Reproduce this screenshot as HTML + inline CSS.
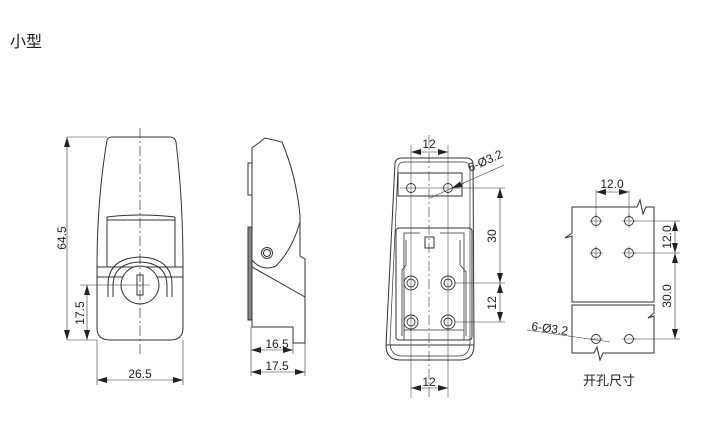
<!DOCTYPE html>
<html><head><meta charset="utf-8"><style>
html,body{margin:0;padding:0;background:#fff}
svg{display:block}
text{font-family:"Liberation Sans","Noto Sans CJK SC",sans-serif;fill:#222}
</style></head><body>
<svg width="728" height="424" viewBox="0 0 728 424" xmlns="http://www.w3.org/2000/svg">
<defs>
<marker id="a" viewBox="0 0 10 6" refX="10" refY="3" markerWidth="10" markerHeight="6" orient="auto-start-reverse" markerUnits="userSpaceOnUse"><path d="M0,0 L10,3 L0,6z" fill="#222"/></marker>
</defs>
<text x="10" y="47" font-size="16">小型</text>

<g fill="none" stroke="#333" stroke-width="1">
<!-- FRONT VIEW -->
<path d="M107,140 Q108,137 112,137 L170,137 Q175,137 176,142 Q183,200 183,267 L183,328 Q183,340 170,340 L110,340 Q97,340 97,328 L97,267 Q97,200 107,140Z"/>
<line x1="107" y1="217" x2="107" y2="267"/><line x1="175" y1="217" x2="175" y2="267"/>
<path d="M107,217 Q140,213 175,217"/><line x1="107" y1="220" x2="175" y2="220"/>
<line x1="97" y1="267" x2="183" y2="267"/><line x1="97" y1="277" x2="183" y2="277"/>
<path d="M108,297 L108,285 Q108,258 140,257 Q172,258 172,285 L172,297"/>
<path d="M113,297 L113,286 Q113,263 140,262 Q167,263 167,286 L167,297"/>
<circle cx="140" cy="285" r="19" fill="#fff"/>
<rect x="137" y="275" width="6" height="20"/>
<line x1="140" y1="128" x2="140" y2="355" stroke-dasharray="10,3,2,3" stroke-width="0.7"/>
<!-- dims -->
<line x1="67" y1="137" x2="107" y2="137" stroke-width="0.6"/><line x1="67" y1="340" x2="97" y2="340" stroke-width="0.6"/>
<line x1="67" y1="137" x2="67" y2="340" stroke-width="0.6" marker-start="url(#a)" marker-end="url(#a)"/>
<line x1="80" y1="285" x2="150" y2="285" stroke-width="0.6"/>
<line x1="87" y1="285" x2="87" y2="340" stroke-width="0.6" marker-start="url(#a)" marker-end="url(#a)"/>
<line x1="97" y1="340" x2="97" y2="385" stroke-width="0.6"/><line x1="183" y1="340" x2="183" y2="385" stroke-width="0.6"/>
<line x1="97" y1="380" x2="183" y2="380" stroke-width="0.6" marker-start="url(#a)" marker-end="url(#a)"/>

<!-- SIDE VIEW -->
<path d="M252,148 L265,138 L282,142 Q296,175 300,215 L300,256 L305,259 L305,343 L293,343 L293,327 L252,327 Z"/>
<rect x="248" y="163" width="4" height="32"/>
<rect x="248" y="227" width="4" height="93" fill="#888"/>
<circle cx="267" cy="253" r="5.5"/><circle cx="267" cy="253" r="3.5"/>
<path d="M252,260 Q262,272 276,266 Q292,250 300,222"/>
<line x1="252" y1="267" x2="305" y2="297"/>
<line x1="251" y1="327" x2="251" y2="376" stroke-width="0.6"/><line x1="305" y1="343" x2="305" y2="376" stroke-width="0.6"/>
<line x1="293" y1="343" x2="293" y2="354" stroke-width="0.6"/>
<line x1="251" y1="350" x2="293" y2="350" stroke-width="0.6" marker-start="url(#a)" marker-end="url(#a)"/>
<line x1="251" y1="372" x2="305" y2="372" stroke-width="0.6" marker-start="url(#a)" marker-end="url(#a)"/>

<!-- BACK VIEW -->
<path d="M395,163 Q396,158 402,158 L466,158 Q472,158 473,163 L474,345 Q474,360 460,360 L400,360 Q386,360 386,345 Z"/>
<path d="M398,167 Q399,162 404,162 L464,162 Q469,162 470,167 L470,342 Q470,356 458,356 L402,356 Q390,356 390,342 Z" stroke-width="0.7"/>
<rect x="398" y="173" width="64" height="23"/>
<rect x="396" y="228" width="76" height="112" rx="3"/>
<path d="M404,340 L404,233 L420,233 M440,233 L464,233 L464,340" stroke-width="0.8"/>
<rect x="425" y="237" width="9" height="11"/>
<path d="M402,336 L402,270 L406,265 L406,240 M460,240 L460,265 L466,272 L466,336" stroke-width="0.8"/>
<line x1="404" y1="330" x2="464" y2="330" stroke-width="0.8"/>
<line x1="386" y1="345" x2="474" y2="345"/>
<g stroke-width="0.9">
<circle cx="411" cy="188" r="4.5"/><circle cx="448" cy="188" r="4.5"/>
<circle cx="411" cy="283" r="7"/><circle cx="411" cy="283" r="4"/>
<circle cx="448" cy="283" r="7"/><circle cx="448" cy="283" r="4"/>
<circle cx="411" cy="322" r="7"/><circle cx="411" cy="322" r="4"/>
<circle cx="448" cy="322" r="7"/><circle cx="448" cy="322" r="4"/>
</g>
<line x1="429" y1="135" x2="429" y2="398" stroke-dasharray="10,3,2,3" stroke-width="0.6"/>
<line x1="411" y1="145" x2="411" y2="398" stroke-width="0.5"/><line x1="448" y1="145" x2="448" y2="398" stroke-width="0.5"/>
<line x1="400" y1="188" x2="460" y2="188" stroke-width="0.5"/>
<line x1="411" y1="152" x2="448" y2="152" stroke-width="0.6" marker-start="url(#a)" marker-end="url(#a)"/>
<line x1="411" y1="388" x2="448" y2="388" stroke-width="0.6" marker-start="url(#a)" marker-end="url(#a)"/>
<line x1="452" y1="188" x2="505" y2="188" stroke-width="0.5"/>
<line x1="455" y1="283" x2="505" y2="283" stroke-width="0.5"/>
<line x1="455" y1="322" x2="505" y2="322" stroke-width="0.5"/>
<line x1="500" y1="188" x2="500" y2="283" stroke-width="0.6" marker-start="url(#a)" marker-end="url(#a)"/>
<line x1="500" y1="283" x2="500" y2="322" stroke-width="0.6" marker-start="url(#a)" marker-end="url(#a)"/>
<line x1="430" y1="198" x2="504" y2="165" stroke-width="0.6"/>
<line x1="452" y1="188" x2="464" y2="183" stroke-width="0.6" marker-start="url(#a)"/>

<!-- HOLE PATTERN -->
<path d="M572,207 L637,207 L640,200 L643,214 L646,207 L654,207 L654,302 L572,302 L572,236 L565,238 L572,233 Z"/>
<path d="M572,305 L654,305 L654,313 L648,318 L654,316 L654,353 L603,353 L600,360 L597,347 L594,353 L572,353 Z"/>
<g stroke-width="0.9">
<circle cx="596" cy="221" r="4.5"/><circle cx="629" cy="221" r="4.5"/>
<circle cx="596" cy="253" r="4.5"/><circle cx="629" cy="253" r="4.5"/>
<circle cx="596" cy="339" r="4.5"/><circle cx="629" cy="339" r="4.5"/>
</g>
<g stroke-width="0.5">
<line x1="589" y1="221" x2="603" y2="221"/><line x1="596" y1="214" x2="596" y2="228"/>
<line x1="622" y1="221" x2="636" y2="221"/><line x1="629" y1="214" x2="629" y2="228"/>
<line x1="589" y1="253" x2="603" y2="253"/><line x1="596" y1="246" x2="596" y2="260"/>
<line x1="622" y1="253" x2="636" y2="253"/><line x1="629" y1="246" x2="629" y2="260"/>
<line x1="589" y1="339" x2="603" y2="339"/>
<line x1="622" y1="339" x2="636" y2="339"/>
<line x1="596" y1="190" x2="596" y2="217"/><line x1="629" y1="190" x2="629" y2="217"/>
<line x1="633" y1="221" x2="680" y2="221"/><line x1="633" y1="253" x2="680" y2="253"/><line x1="633" y1="339" x2="680" y2="339"/>
<line x1="527" y1="330" x2="610" y2="342"/>
</g>
<line x1="596" y1="192" x2="629" y2="192" stroke-width="0.6" marker-start="url(#a)" marker-end="url(#a)"/>
<line x1="675" y1="221" x2="675" y2="253" stroke-width="0.6" marker-start="url(#a)" marker-end="url(#a)"/>
<line x1="675" y1="253" x2="675" y2="339" stroke-width="0.6" marker-start="url(#a)" marker-end="url(#a)"/>
</g>

<g font-size="12">
<text x="66" y="238" text-anchor="middle" transform="rotate(-90 66 238)">64.5</text>
<text x="84" y="313" text-anchor="middle" transform="rotate(-90 84 313)">17.5</text>
<text x="140" y="378" text-anchor="middle">26.5</text>
<text x="277" y="348" text-anchor="middle">16.5</text>
<text x="277" y="370" text-anchor="middle">17.5</text>
<text x="429" y="148" text-anchor="middle">12</text>
<text x="429" y="386" text-anchor="middle">12</text>
<text x="470" y="172" transform="rotate(-24 470 172)">6-Ø3.2</text>
<text x="496" y="236" text-anchor="middle" transform="rotate(-90 496 236)">30</text>
<text x="496" y="303" text-anchor="middle" transform="rotate(-90 496 303)">12</text>
<text x="612" y="188" text-anchor="middle">12.0</text>
<text x="671" y="237" text-anchor="middle" transform="rotate(-90 671 237)">12.0</text>
<text x="671" y="296" text-anchor="middle" transform="rotate(-90 671 296)">30.0</text>
<text x="531" y="330" transform="rotate(8 531 330)">6-Ø3.2</text>
<text x="609" y="385" text-anchor="middle" font-size="13">开孔尺寸</text>
</g>
</svg>
</body></html>
